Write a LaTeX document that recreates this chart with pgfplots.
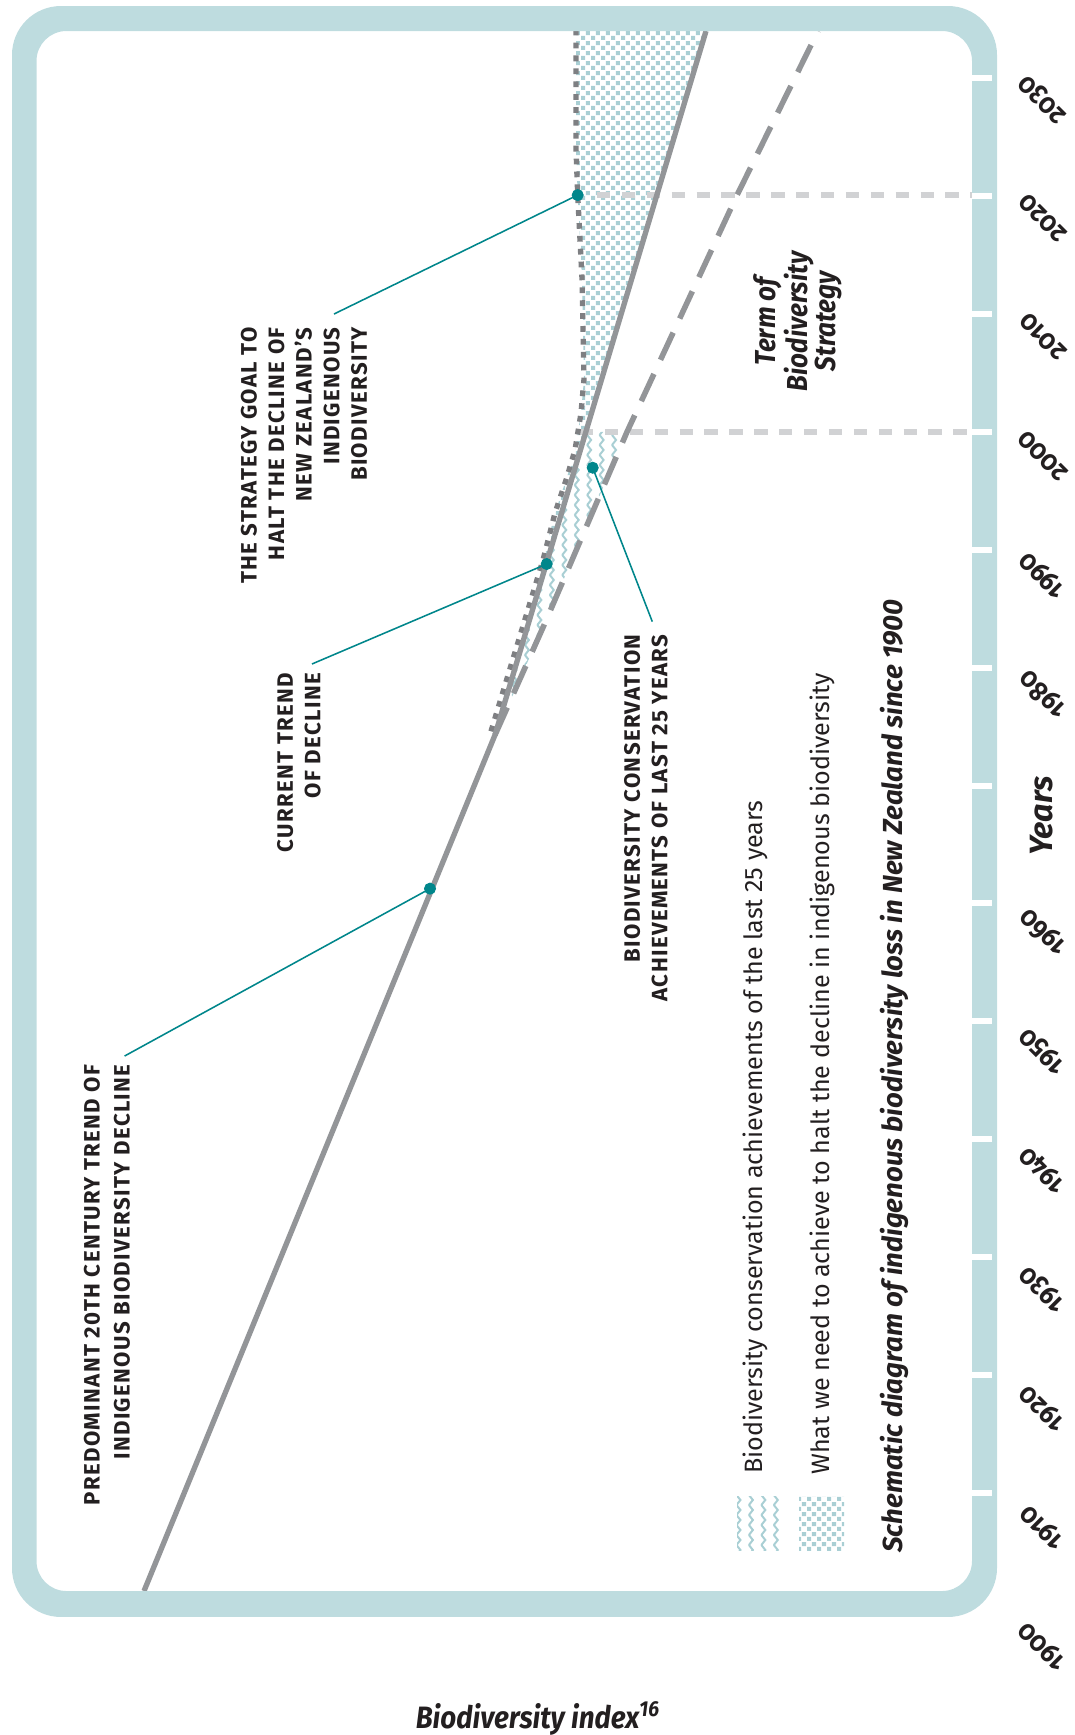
\documentclass[border=0pt]{standalone}
\usepackage{pgfplots}
\pgfplotsset{compat=1.18}
\usepackage{fontspec}
\setmainfont{Fira Sans}
\newfontfamily\narrow{Fira Sans}[FakeStretch=0.9]
\newfontfamily\oldnums{Fira Sans}[Numbers=OldStyle,FakeStretch=0.9]
\newfontfamily\capsfont{Fira Sans}[LetterSpace=6]
\usetikzlibrary{patterns}

\definecolor{framecol}{HTML}{BEDCDF}
\definecolor{patcol}{HTML}{A9CFD4}
\definecolor{linegrey}{HTML}{939598}
\definecolor{dotgrey}{HTML}{7E7F82}
\definecolor{lightdash}{HTML}{D1D2D4}
\definecolor{callout}{HTML}{00868B}
\definecolor{ink}{HTML}{231F20}

% small squares, offset on the diagonal
\pgfdeclarepatternformonly{checks}{\pgfpointorigin}{\pgfpoint{4.6pt}{4.6pt}}{\pgfpoint{4.6pt}{4.6pt}}{%
  \pgfpathrectangle{\pgfpointorigin}{\pgfpoint{2pt}{2pt}}%
  \pgfpathrectangle{\pgfpoint{2.3pt}{2.3pt}}{\pgfpoint{2pt}{2pt}}%
  \pgfusepath{fill}}
% vertical zigzag lines
\pgfdeclarepatternformonly{waves}{\pgfpoint{0pt}{-0.5pt}}{\pgfpoint{5.6pt}{5pt}}{\pgfpoint{5.6pt}{4.5pt}}{%
  \pgfsetlinewidth{0.9pt}%
  \pgfpathmoveto{\pgfpoint{1pt}{0pt}}%
  \pgfpathlineto{\pgfpoint{2.8pt}{2.25pt}}%
  \pgfpathlineto{\pgfpoint{1pt}{4.5pt}}%
  \pgfusepath{stroke}}

\begin{document}
\begin{tikzpicture}
\begin{axis}[
    name=ax,
    width=483.75pt, height=780.75pt,
    scale only axis,
    xmin=0, xmax=1075,
    ymin=1889.447, ymax=2036.643,
    hide axis,
    clip=false,
]

% areas
\addplot[draw=none, pattern=waves, pattern color=patcol] coordinates {
    (495,1974.29) (586.7,2000) (627,2000) (545,1983.79) (495,1974.29)
};
\addplot[draw=none, pattern=checks, pattern color=patcol] coordinates {
    (543,1989.13) (555,1993.12) (567,1996.18) (575,1998.47) (581,2001.6)
    (584,2004.5) (582,2013) (577.7,2020.09) (576,2024) (576,2034.01)
    (706,2034.01) (547.4,1989.13)
};

% term lines (2000, 2020)
\addplot[lightdash, line width=2.7pt, dash pattern=on 6pt off 5.2pt] coordinates {(597,2020.09) (972,2020.09)};
\addplot[lightdash, line width=2.7pt, dash pattern=on 6pt off 5.2pt] coordinates {(580,2000) (972,2000)};

% trends
\addplot[linegrey, line width=2.5pt, dash pattern=on 13.5pt off 7pt] coordinates {
    (495,1974.29) (545,1983.79) (627,2000) (737,2020.08) (818,2034.01)
};
\addplot[dotgrey, line width=2.4pt, dash pattern=on 2.6pt off 3.2pt] coordinates {
    (491,1974.6) (543,1989.13) (555,1993.12) (567,1996.18) (575,1998.47)
    (581,2001.6) (584,2004.5) (582,2013) (577.7,2020.09) (576,2024) (576,2034.01)
};
\addplot[linegrey, line width=2.4pt] coordinates {
    (144,1901.66) (495,1974.29) (706,2034.01)
};

% callout leaders
\addplot[callout, line width=0.7pt] coordinates {(577.7,2020.09) (334,2010.0)};
\addplot[callout, line width=0.7pt] coordinates {(546.7,1988.79) (312,1980.31)};
\addplot[callout, line width=0.7pt] coordinates {(430,1961.25) (124.6,1947.05)};
\addplot[callout, line width=0.7pt] coordinates {(592.7,1996.96) (652.3,1983.9)};
\addplot[only marks, mark=*, mark size=2.5pt, callout] coordinates {
    (577.7,2020.09) (546.7,1988.79) (430,1961.25) (592.7,1996.96)
};

% frame
\fill[framecol, even odd rule, rounded corners=22pt] (12,2036.13) rectangle (997,1899.46)
    [rounded corners=13.5pt] (36.5,2034.01) rectangle (972,1901.66);
\pgfplotsinvokeforeach{1910,1920,...,2030}{
    \draw[white, line width=2.7pt] (972,#1) -- (992,#1);
}

% year labels
\begin{scope}[every node/.style={rotate=135, text=ink, font=\oldnums\bfseries\fontsize{12.5}{12.5}\selectfont}]
\node at (1043,2028.24) {2030};
\node at (1043,2018.15) {2020};
\node at (1043,2008.05) {2010};
\node at (1043,1997.96) {2000};
\node at (1043,1987.86) {1990};
\node at (1043,1977.76) {1980};
\node at (1043,1957.57) {1960};
\node at (1043,1947.48) {1950};
\node at (1043,1937.38) {1940};
\node at (1043,1927.29) {1930};
\node at (1043,1917.19) {1920};
\node at (1043,1907.09) {1910};
\node at (1043,1897.00) {1900};
\end{scope}
\node[rotate=90, text=ink, font=\bfseries\itshape\fontsize{14.5}{14.5}\selectfont] at (1042,1967.41) {Years};

% callout texts
\begin{scope}[every node/.style={rotate=90, anchor=east, align=right, inner sep=0pt, text=ink,
    font=\capsfont\bfseries\fontsize{10}{12.4}\selectfont}]
\node at (304,2008.9) {THE STRATEGY GOAL TO\\HALT THE DECLINE OF\\NEW ZEALAND’S\\INDIGENOUS\\BIODIVERSITY};
\node at (299,1979.58) {CURRENT TREND\\OF DECLINE};
\node[font=\capsfont\bfseries\fontsize{10}{13.5}\selectfont] at (107,1946.37) {PREDOMINANT 20TH CENTURY TREND OF\\INDIGENOUS BIODIVERSITY DECLINE};
\node at (646,1982.85) {BIODIVERSITY CONSERVATION\\ACHIEVEMENTS OF LAST 25 YEARS};
\end{scope}

\node[rotate=90, align=center, text=ink, font=\narrow\bfseries\itshape\fontsize{13}{12.8}\selectfont]
    at (797.5,2009.37) {Term of\\Biodiversity\\Strategy};

% legend
\fill[pattern=waves, pattern color=patcol] (737,1905.14) rectangle (782,1909.64);
\fill[pattern=checks, pattern color=patcol] (799,1905.14) rectangle (844,1909.64);
\begin{scope}[every node/.style={rotate=90, anchor=west, inner sep=0pt, text=ink,
    font=\fontsize{11.3}{13}\selectfont}]
\node at (755,1911.58) {Biodiversity conservation achievements of the last 25 years};
\node at (822,1911.5) {What we need to achieve to halt the decline in indigenous biodiversity};
\end{scope}
\node[rotate=90, anchor=west, inner sep=0pt, text=ink, font=\bfseries\itshape\fontsize{12.4}{14}\selectfont]
    at (894,1904.89) {Schematic diagram of indigenous biodiversity loss in New Zealand since 1900};

\node[anchor=base, inner sep=0pt, text=ink, font=\narrow\bfseries\itshape\fontsize{13.9}{14}\selectfont]
    at (538,1890.04) {Biodiversity index\textsuperscript{16}};

\end{axis}
\pgfresetboundingbox
\path[use as bounding box] (ax.south west) rectangle (ax.north east);
\end{tikzpicture}
\end{document}
